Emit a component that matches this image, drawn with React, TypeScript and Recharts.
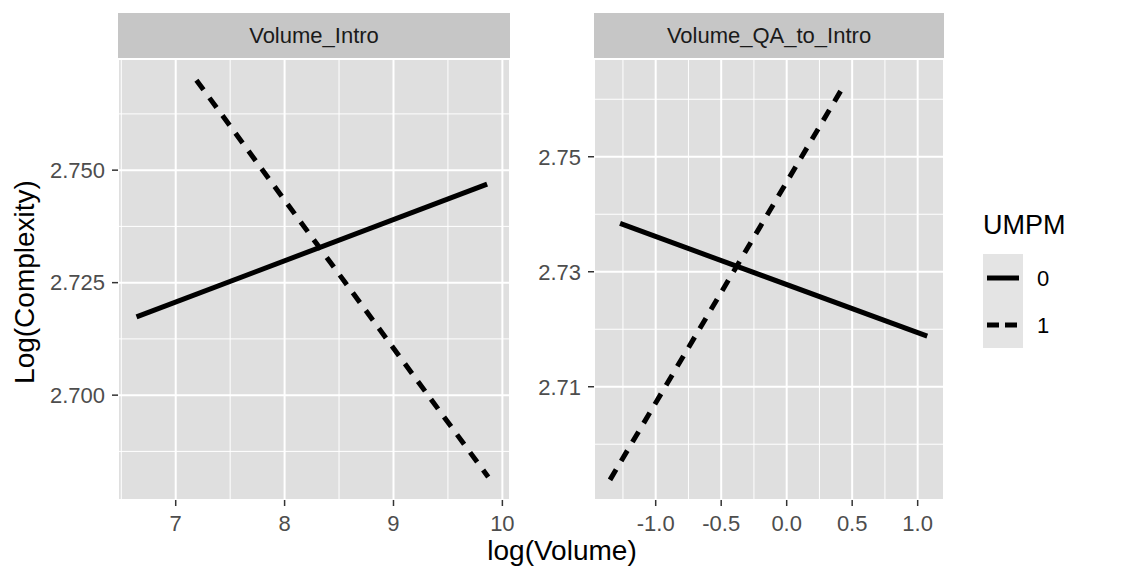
import { LineChart, Line, XAxis, YAxis, CartesianGrid } from "recharts";

const FONT = '"Liberation Sans", Arial, Helvetica, sans-serif';
const PANEL_BG = "#DFDFDF";
const STRIP_BG = "#C6C6C6";

// facet titles
const facets = ["Volume_Intro", "Volume_QA_to_Intro"];

// Volume_Intro facet: endpoints of the fitted lines
const introX0 = [6.64, 9.86];
const introY0 = [2.7174, 2.7469];
const introX1 = [7.19, 9.87];
const introY1 = [2.77, 2.6818];

// Volume_QA_to_Intro facet
const qaX0 = [-1.272, 1.073];
const qaY0 = [2.7384, 2.7188];
const qaX1 = [-1.349, 0.419];
const qaY1 = [2.6938, 2.7617];

// axes
const introXTicks = [7, 8, 9, 10];
const introXMinor = [6.5, 7.5, 8.5, 9.5];
const introYTicks = [2.7, 2.725, 2.75];
const introYMinor = [2.6875, 2.7125, 2.7375, 2.7625];
const qaXTicks = [-1, -0.5, 0, 0.5, 1];
const qaXMinor = [-1.25, -0.75, -0.25, 0.25, 0.75];
const qaYTicks = [2.71, 2.73, 2.75];
const qaYMinor = [2.7, 2.72, 2.74, 2.76];

const legendTitle = "UMPM";
const legendLabels = ["0", "1"];

const toPoints = (xs: number[], ys: number[]) => xs.map((x, i) => ({ x, y: ys[i] }));

const tickStyle = { fill: "#4D4D4D", fontSize: 22, fontFamily: FONT };
const tickLine = { stroke: "#333333", strokeWidth: 1.5 };

type PanelProps = {
  title: string;
  left: number;
  width: number;
  yAxisWidth: number;
  marginRight: number;
  xDomain: number[];
  yDomain: number[];
  xTicks: number[];
  yTicks: number[];
  xMinor: number[];
  yMinor: number[];
  xFmt: (v: number) => string;
  yFmt: (v: number) => string;
  solid: { x: number; y: number }[];
  dashed: { x: number; y: number }[];
};

function Panel(p: PanelProps) {
  const stripLeft = p.yAxisWidth;
  const stripWidth = p.width - p.yAxisWidth - p.marginRight;
  return (
    <div style={{ position: "absolute", left: p.left, top: 0, width: p.width, height: 571 }}>
      <div
        style={{
          position: "absolute",
          left: stripLeft,
          top: 13,
          width: stripWidth,
          height: 46,
          lineHeight: "46px",
          background: STRIP_BG,
          color: "#1A1A1A",
          fontSize: 22,
          fontFamily: FONT,
          textAlign: "center",
        }}
      >
        {p.title}
      </div>
      <LineChart width={p.width} height={571} margin={{ top: 59, right: p.marginRight, bottom: 31, left: 0 }}>
        <CartesianGrid
          fill={PANEL_BG}
          stroke="#FFFFFF"
          strokeWidth={1}
          horizontalValues={p.yMinor}
          verticalValues={p.xMinor}
        />
        <CartesianGrid fill="none" stroke="#FFFFFF" strokeWidth={2} />
        <XAxis
          dataKey="x"
          type="number"
          domain={p.xDomain}
          ticks={p.xTicks}
          allowDataOverflow
          tickFormatter={p.xFmt}
          tick={tickStyle}
          tickLine={tickLine}
          tickSize={6}
          tickMargin={9}
          axisLine={false}
          height={40}
        />
        <YAxis
          dataKey="y"
          type="number"
          domain={p.yDomain}
          ticks={p.yTicks}
          allowDataOverflow
          tickFormatter={p.yFmt}
          tick={tickStyle}
          tickLine={tickLine}
          tickSize={6}
          tickMargin={7}
          axisLine={false}
          width={p.yAxisWidth}
        />
        <Line
          data={p.solid}
          dataKey="y"
          stroke="#000000"
          strokeWidth={5}
          dot={false}
          isAnimationActive={false}
        />
        <Line
          data={p.dashed}
          dataKey="y"
          stroke="#000000"
          strokeWidth={5}
          strokeDasharray="12 10"
          dot={false}
          isAnimationActive={false}
        />
      </LineChart>
    </div>
  );
}

export default function App() {
  return (
    <div
      style={{
        position: "absolute",
        left: 0,
        top: 0,
        width: 1145,
        height: 571,
        background: "#FFFFFF",
        fontFamily: FONT,
        overflow: "hidden",
      }}
    >
      <Panel
        title={facets[0]}
        left={0}
        width={530}
        yAxisWidth={118}
        marginRight={20}
        xDomain={[6.47, 10.07]}
        yDomain={[2.6767, 2.7747]}
        xTicks={introXTicks}
        yTicks={introYTicks}
        xMinor={introXMinor}
        yMinor={introYMinor}
        xFmt={(v) => String(v)}
        yFmt={(v) => v.toFixed(3)}
        solid={toPoints(introX0, introY0)}
        dashed={toPoints(introX1, introY1)}
      />
      <Panel
        title={facets[1]}
        left={530}
        width={440}
        yAxisWidth={64}
        marginRight={26}
        xDomain={[-1.471, 1.201]}
        yDomain={[2.6903, 2.767]}
        xTicks={qaXTicks}
        yTicks={qaYTicks}
        xMinor={qaXMinor}
        yMinor={qaYMinor}
        xFmt={(v) => v.toFixed(1)}
        yFmt={(v) => v.toFixed(2)}
        solid={toPoints(qaX0, qaY0)}
        dashed={toPoints(qaX1, qaY1)}
      />
      {/* axis titles */}
      <div
        style={{
          position: "absolute",
          left: 562 - 150,
          top: 534,
          width: 300,
          textAlign: "center",
          fontSize: 28,
          color: "#000000",
          lineHeight: "34px",
        }}
      >
        log(Volume)
      </div>
      <div
        style={{
          position: "absolute",
          left: 25 - 150,
          top: 282 - 17,
          width: 300,
          height: 34,
          lineHeight: "34px",
          textAlign: "center",
          fontSize: 28,
          color: "#000000",
          transform: "rotate(-90deg)",
        }}
      >
        Log(Complexity)
      </div>
      {/* legend */}
      <div style={{ position: "absolute", left: 983, top: 208, fontSize: 27, color: "#000000", lineHeight: "34px" }}>
        {legendTitle}
      </div>
      <svg style={{ position: "absolute", left: 983, top: 254 }} width={80} height={95}>
        <rect x={0} y={0} width={40} height={94} fill="#E4E4E4" />
        <line x1={4} x2={36} y1={24} y2={24} stroke="#000" strokeWidth={5} />
        <line x1={4} x2={36} y1={71} y2={71} stroke="#000" strokeWidth={5} strokeDasharray="12 6" />
        <text x={54} y={32} fontSize={22} fontFamily={FONT} fill="#000">
          {legendLabels[0]}
        </text>
        <text x={54} y={79} fontSize={22} fontFamily={FONT} fill="#000">
          {legendLabels[1]}
        </text>
      </svg>
    </div>
  );
}
